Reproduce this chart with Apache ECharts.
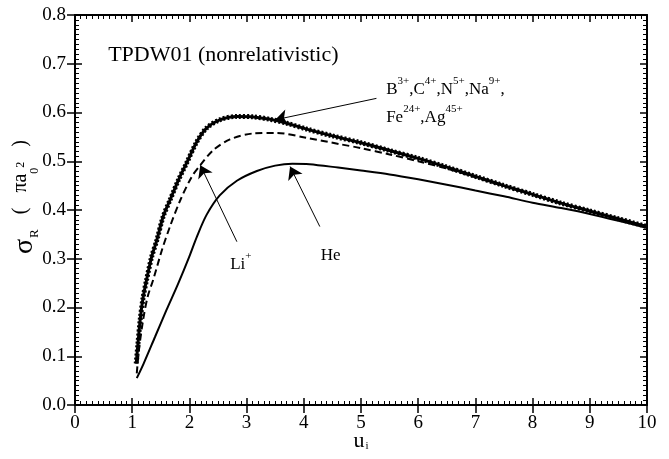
<!DOCTYPE html>
<html><head><meta charset="utf-8">
<script src="https://cdn.jsdelivr.net/npm/echarts@6/dist/echarts.min.js"></script>
<style>html,body{margin:0;padding:0;background:#fff}#c{width:669px;height:459px}</style>
</head><body><div id="c"></div>
<script>
// u_i vs sigma_R (pi a0^2), TPDW01 nonrelativistic
const xTickLabels = ['0','1','2','3','4','5','6','7','8','9','10'];
const yTickLabels = ['0.0','0.1','0.2','0.3','0.4','0.5','0.6','0.7','0.8'];

// B3+, C4+, N5+, Na9+, Fe24+, Ag45+ (overlapping band)
const heavyIons = [[1.07,0.085],[1.10,0.125],[1.14,0.175],[1.19,0.22],[1.25,0.256],[1.34,0.304],[1.43,0.338],[1.54,0.386],[1.66,0.42],[1.81,0.462],[1.95,0.496],[2.13,0.540],[2.30,0.568],[2.53,0.585],[2.83,0.592],[3.12,0.591],[3.41,0.586],[3.70,0.578],[4.05,0.566],[4.50,0.552],[5.00,0.538],[5.50,0.522],[6.00,0.506],[6.50,0.488],[7.00,0.469],[7.50,0.450],[8.00,0.432],[8.50,0.414],[9.00,0.398],[9.50,0.382],[10.0,0.366]];
// Li+
const liPlus = [[1.08,0.065],[1.12,0.115],[1.19,0.174],[1.27,0.222],[1.37,0.258],[1.52,0.318],[1.66,0.366],[1.84,0.42],[2.04,0.468],[2.19,0.492],[2.42,0.523],[2.71,0.545],[3.12,0.557],[3.53,0.558],[4.05,0.548],[4.63,0.535],[5.00,0.527],[5.50,0.514],[6.00,0.500],[6.50,0.485],[7.00,0.467],[7.50,0.449],[8.00,0.431],[8.50,0.413],[9.00,0.397],[9.50,0.381],[10.0,0.365]];
// He
const helium = [[1.08,0.055],[1.20,0.085],[1.40,0.140],[1.60,0.195],[1.80,0.248],[2.00,0.305],[2.13,0.345],[2.30,0.390],[2.53,0.430],[2.83,0.460],[3.18,0.480],[3.50,0.491],[3.80,0.495],[4.10,0.494],[4.60,0.487],[5.00,0.481],[5.50,0.473],[6.00,0.463],[6.50,0.452],[7.00,0.440],[7.50,0.428],[8.00,0.415],[8.50,0.404],[9.00,0.392],[9.50,0.378],[10.0,0.363]];

const FONT = 'Liberation Serif';
const chart = echarts.init(document.getElementById('c'), null, {renderer:'canvas'});

function xAx(extra){ return Object.assign({type:'value', min:0, max:10, interval:1, splitLine:{show:false}, axisLabel:{show:false}, axisLine:{show:false}, axisTick:{show:false}, minorTick:{show:false}}, extra); }
function yAx(extra){ return Object.assign({type:'value', min:0, max:0.8, interval:0.1, splitLine:{show:false}, axisLabel:{show:false}, axisLine:{show:false}, axisTick:{show:false}, minorTick:{show:false}}, extra); }
const black = {color:'#000', width:1.5};

const sup = {fontFamily:FONT, fontSize:11, color:'#000', lineHeight:12, padding:[6,0,10,0], verticalAlign:'top'};
const nrm = {fontFamily:FONT, fontSize:17, color:'#000', lineHeight:28, verticalAlign:'bottom'};

const option = {
  animation:false,
  backgroundColor:'#fff',
  grid:{left:75, right:22, top:15, bottom:54, containLabel:false, outerBoundsMode:'none'},
  xAxis:[
    xAx({position:'bottom',
      axisLine:{show:true, onZero:false, lineStyle:{color:'#000', width:2}},
      axisTick:{show:true, length:8, lineStyle:black},
      axisLabel:{show:true, color:'#000', fontFamily:FONT, fontSize:19, margin:9, formatter:(v)=>xTickLabels[Math.round(v)]},
      name:'{u|u}{i|i}', nameLocation:'middle', nameGap:25, nameMoveOverlap:false,
      nameTextStyle:{rich:{u:{fontFamily:FONT, fontSize:22, color:'#000', lineHeight:22, verticalAlign:'top'}, i:{fontFamily:FONT, fontSize:11, color:'#000', lineHeight:12, padding:[18,0,0,1], verticalAlign:'bottom'}}}
    }),
    xAx({position:'bottom', axisTick:{show:true, inside:true, length:7, lineStyle:black}, minorTick:{show:true, splitNumber:10, length:4, lineStyle:{color:'#000', width:1}}}),
    xAx({position:'top', axisLine:{show:true, onZero:false, lineStyle:{color:'#000', width:2}}, axisTick:{show:true, inside:true, length:7, lineStyle:black}, minorTick:{show:true, splitNumber:10, length:4, lineStyle:{color:'#000', width:1}}})
  ],
  yAxis:[
    yAx({position:'left',
      axisLine:{show:true, onZero:false, lineStyle:{color:'#000', width:2}},
      axisTick:{show:true, length:8, lineStyle:black},
      axisLabel:{show:true, color:'#000', fontFamily:FONT, fontSize:19, margin:9, formatter:(v)=>yTickLabels[Math.round(v*10)]},
      name:'{g|σ}{r|R}{n|   (   πa}{z|0}{t|2}{n|   )}', nameLocation:'middle', nameRotate:90, nameGap:34, nameMoveOverlap:false,
      nameTextStyle:{padding:[0,0,0,26], rich:{
        g:{fontFamily:FONT, fontSize:28, color:'#000', lineHeight:30, verticalAlign:'top'},
        r:{fontFamily:FONT, fontSize:13, color:'#000', lineHeight:13, padding:[19,0,0,1], verticalAlign:'bottom'},
        n:{fontFamily:FONT, fontSize:20, color:'#000', lineHeight:30, verticalAlign:'top'},
        z:{fontFamily:FONT, fontSize:12, color:'#000', lineHeight:12, padding:[16,0,0,0], verticalAlign:'bottom'},
        t:{fontFamily:FONT, fontSize:12, color:'#000', lineHeight:12, padding:[4,0,14,0], verticalAlign:'top'}
      }}
    }),
    yAx({position:'left', axisTick:{show:true, inside:true, length:7, lineStyle:black}, minorTick:{show:true, splitNumber:10, length:4, lineStyle:{color:'#000', width:1}}}),
    yAx({position:'right', axisLine:{show:true, onZero:false, lineStyle:{color:'#000', width:2}}, axisTick:{show:true, inside:true, length:7, lineStyle:black}, minorTick:{show:true, splitNumber:10, length:4, lineStyle:{color:'#000', width:1}}})
  ],
  series:[
    {name:'B3+,C4+,N5+,Na9+', type:'line', data:heavyIons, showSymbol:false, smooth:0.3, lineStyle:{color:'#000', width:3}},
    {name:'Fe24+,Ag45+', type:'line', data:heavyIons, showSymbol:false, smooth:0.3, lineStyle:{color:'#000', width:5, type:[2,2]}},
    {name:'Li+', type:'line', data:liPlus, showSymbol:false, smooth:0.3, lineStyle:{color:'#000', width:2, type:[7,4]}},
    {name:'He', type:'line', data:helium, showSymbol:false, smooth:0.3, lineStyle:{color:'#000', width:2},
      markLine:{silent:true, animation:false, symbol:['none','arrow'], symbolSize:[1,12], label:{show:false},
        lineStyle:{color:'#000', width:1, type:'solid'},
        data:[
          [{coord:[5.27,0.629], symbol:'none'},{coord:[3.50,0.585], symbol:'arrow', symbolSize:12}],
          [{coord:[2.83,0.335], symbol:'none'},{coord:[2.19,0.492], symbol:'arrow', symbolSize:12}],
          [{coord:[4.28,0.366], symbol:'none'},{coord:[3.76,0.489], symbol:'arrow', symbolSize:12}]
        ]},
      markPoint:{silent:true, animation:false, symbol:'circle', symbolSize:0, itemStyle:{color:'rgba(0,0,0,0)'},
        data:[
          {coord:[0.58,0.717], label:{show:true, position:'right', distance:0, color:'#000', fontFamily:FONT, fontSize:22, formatter:'TPDW01 (nonrelativistic)'}},
          {coord:[5.44,0.630], label:{show:true, position:'right', distance:0, formatter:'{n|B}{s|3+}{n|,C}{s|4+}{n|,N}{s|5+}{n|,Na}{s|9+}{n|,}\n{n|Fe}{s|24+}{n|,Ag}{s|45+}', rich:{n:nrm, s:sup}}},
          {coord:[2.90,0.300], label:{show:true, position:'inside', formatter:'{n|Li}{s|+}', rich:{n:nrm, s:sup}}},
          {coord:[4.47,0.318], label:{show:true, position:'inside', formatter:'{n|He}', rich:{n:nrm}}}
        ]}
    }
  ]
};
chart.setOption(option);
</script>
</body></html>
